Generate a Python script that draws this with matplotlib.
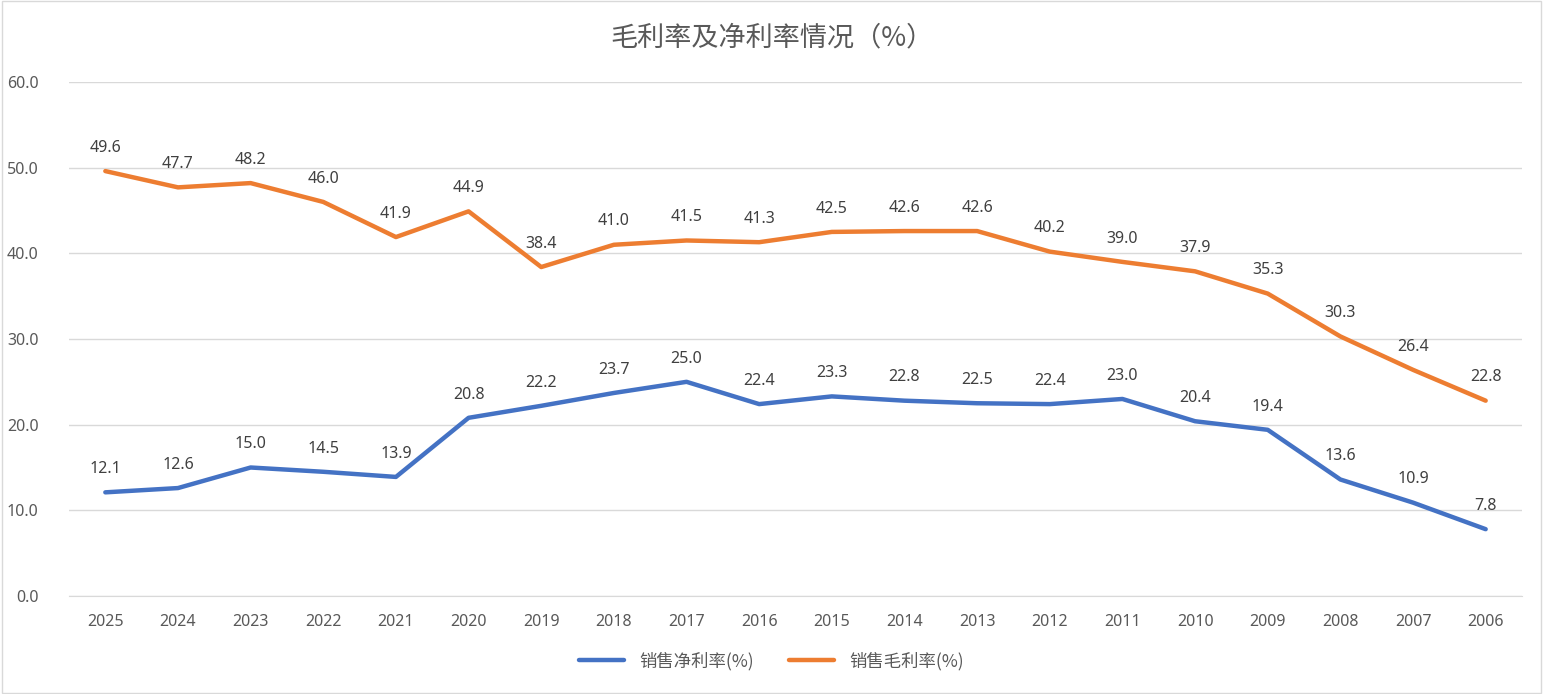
import matplotlib.pyplot as plt

plt.rcParams['font.family'] = ['Noto Sans', 'Noto Sans CJK SC', 'DejaVu Sans']

years = ['2025', '2024', '2023', '2022', '2021', '2020', '2019', '2018', '2017', '2016',
         '2015', '2014', '2013', '2012', '2011', '2010', '2009', '2008', '2007', '2006']
net_margin = [12.1, 12.6, 15.0, 14.5, 13.9, 20.8, 22.2, 23.7, 25.0, 22.4,
              23.3, 22.8, 22.5, 22.4, 23.0, 20.4, 19.4, 13.6, 10.9, 7.8]
gross_margin = [49.6, 47.7, 48.2, 46.0, 41.9, 44.9, 38.4, 41.0, 41.5, 41.3,
                42.5, 42.6, 42.6, 40.2, 39.0, 37.9, 35.3, 30.3, 26.4, 22.8]

text_color = '#595959'
blue = '#4472C4'
orange = '#ED7D31'

fig = plt.figure(figsize=(15.43, 6.94), dpi=100)
ax = fig.add_axes([69 / 1543, 1 - 596 / 694, (1522 - 69) / 1543, (596 - 82) / 694])

x = range(len(years))
ax.plot(x, net_margin, color=blue, linewidth=3.2, label='销售净利率(%)', solid_capstyle='round')
ax.plot(x, gross_margin, color=orange, linewidth=3.2, label='销售毛利率(%)', solid_capstyle='round')

for i, v in enumerate(net_margin):
    ax.annotate(f'{v:.1f}', (i, v), xytext=(0, 11), textcoords='offset points',
                ha='center', va='bottom', fontsize=11.5, color='#404040')
for i, v in enumerate(gross_margin):
    ax.annotate(f'{v:.1f}', (i, v), xytext=(0, 11), textcoords='offset points',
                ha='center', va='bottom', fontsize=11.5, color='#404040')

ax.set_xlim(-0.5, len(years) - 0.5)
ax.set_ylim(0, 60)
ax.set_yticks(range(0, 61, 10))
ax.set_yticklabels([f'{t:.1f}' for t in range(0, 61, 10)])
ax.set_xticks(list(x))
ax.set_xticklabels(years)
ax.tick_params(axis='both', length=0, labelsize=11.5, labelcolor=text_color)
ax.tick_params(axis='x', pad=13)
ax.tick_params(axis='y', pad=22)
ax.grid(axis='y', color='#D9D9D9', linewidth=1)
ax.set_axisbelow(True)
for s in ['top', 'right', 'left']:
    ax.spines[s].set_visible(False)
ax.spines['bottom'].set_color('#D9D9D9')

fig.text(0.5, 1 - 38 / 694, '毛利率及净利率情况（%）', ha='center', va='center',
         fontsize=19.5, color=text_color, family=['Noto Sans CJK SC', 'DejaVu Sans'])

fig.legend(loc='center', bbox_to_anchor=(0.5, 1 - 661 / 694), ncol=2, frameon=False,
           prop={'size': 12.5, 'family': ['Noto Sans CJK SC', 'DejaVu Sans']},
           labelcolor=text_color, handlelength=2.6, handletextpad=0.9, columnspacing=2.0)

fig.patches.append(plt.Rectangle((0.001, 0.001), 0.998, 0.998, transform=fig.transFigure,
                                 fill=False, edgecolor='#D9D9D9', linewidth=1))

fig.savefig('out.png', dpi=100)
